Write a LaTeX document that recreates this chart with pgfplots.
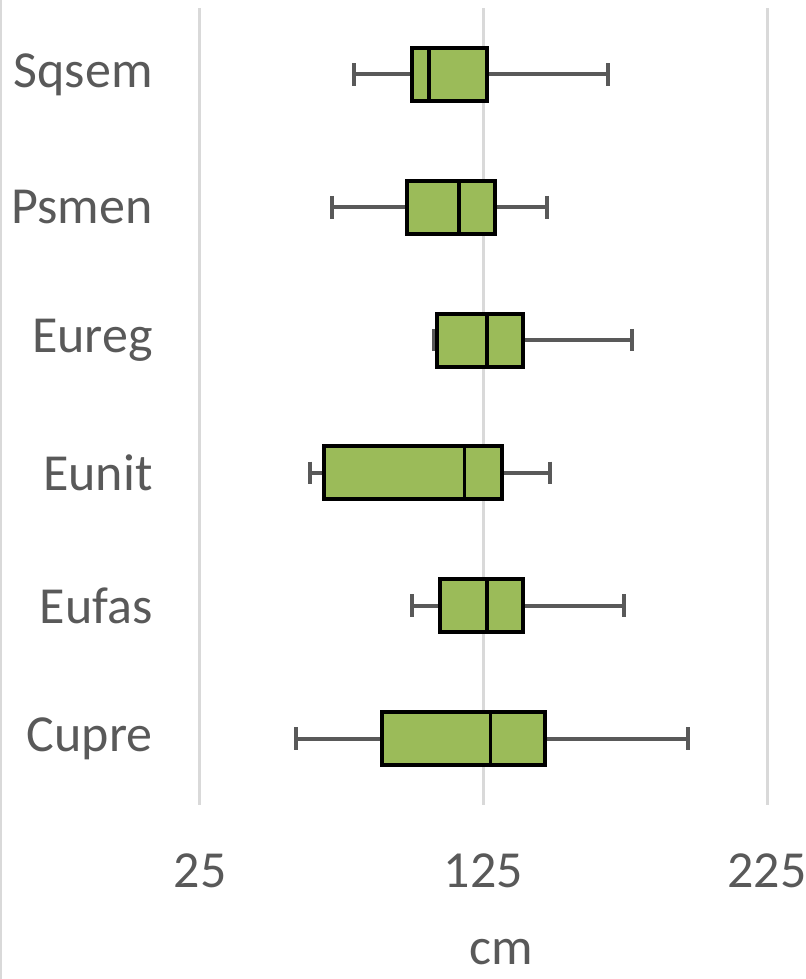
\documentclass[border=0pt]{standalone}
\usepackage{pgfplots}
\pgfplotsset{compat=1.18}
\usepgfplotslibrary{statistics}
\usepackage{fontspec}
\setmainfont{Carlito}
\definecolor{boxgreen}{HTML}{9BBB59}
\definecolor{txtgray}{HTML}{595959}
\definecolor{gridgray}{HTML}{D9D9D9}
\definecolor{whiskgray}{HTML}{595959}

\begin{document}
\begin{tikzpicture}
\path[use as bounding box] (-100pt,-87pt) rectangle (303pt,402.5pt);
\draw[gridgray, line width=0.8pt] (-99.5pt,-87pt) -- (-99.5pt,402.5pt);
\begin{axis}[
    at={(0,0)}, anchor=south west,
    scale only axis,
    width=283.5pt, height=398.5pt,
    xmin=25, xmax=225,
    ymin=0.5, ymax=6.5,
    y dir=reverse,
    xtick={25,125,225},
    ytick={1,2,3,4,5,6},
    yticklabels={Sqsem,Psmen,Eureg,Eunit,Eufas,Cupre},
    axis line style={draw=none},
    major tick length=0pt,
    xmajorgrids,
    grid style={gridgray, line width=1.5pt},
    tick label style={font=\fontsize{26}{31}\selectfont, text=txtgray},
    label style={font=\fontsize{26}{31}\selectfont, text=txtgray},
    /pgf/number format/assume math mode=true,
    xticklabel style={anchor=north, inner sep=0pt, yshift=-24pt},
    yticklabel style={anchor=east, inner sep=0pt, xshift=-23.5pt},
    xlabel={cm},
    xlabel style={at={(axis description cs:0.532,0)}, anchor=base,
                  inner sep=0pt, yshift=-79.5pt},
    boxplot/box extend=0.4,
    boxplot/whisker extend=0.17,
    boxplot/every box/.style={fill=boxgreen, draw=black, line width=2pt},
    boxplot/every median/.style={draw=black, line width=1.8pt},
    boxplot/every whisker/.style={draw=whiskgray, line width=2pt},
]

% Sqsem
\addplot[boxplot prepared={lower whisker=79.4, lower quartile=99.7,
    median=105.8, upper quartile=126.2, upper whisker=168.9, draw position=1}]
    coordinates {};
% Psmen
\addplot[boxplot prepared={lower whisker=71.7, lower quartile=98.0,
    median=116.4, upper quartile=129.1, upper whisker=147.4, draw position=2}]
    coordinates {};
% Eureg
\addplot[boxplot prepared={lower whisker=107.7, lower quartile=108.6,
    median=126.2, upper quartile=138.8, upper whisker=177.4, draw position=3}]
    coordinates {};
% Eunit
\addplot[boxplot prepared={lower whisker=63.8, lower quartile=68.8,
    median=118.3, upper quartile=131.7, upper whisker=148.5, draw position=4}]
    coordinates {};
% Eufas
\addplot[boxplot prepared={lower whisker=99.9, lower quartile=109.7,
    median=126.2, upper quartile=138.8, upper whisker=174.4, draw position=5}]
    coordinates {};
% Cupre
\addplot[boxplot prepared={lower whisker=58.9, lower quartile=89.1,
    median=127.4, upper quartile=146.8, upper whisker=197.0, draw position=6}]
    coordinates {};

\end{axis}
\end{tikzpicture}
\end{document}
